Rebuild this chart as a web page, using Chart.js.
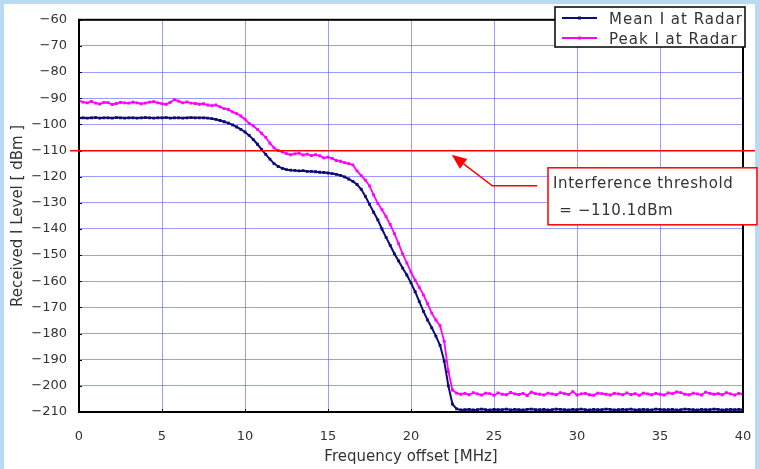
<!DOCTYPE html>
<html>
<head>
<meta charset="utf-8">
<script src="https://cdn.jsdelivr.net/npm/chart.js@4"></script>
<style>
  html, body { margin: 0; padding: 0; background: #b8dbf3; }
  #wrap { position: absolute; left: 0; top: 0; width: 760px; height: 469px; }
</style>
</head>
<body>
<div id="wrap"><canvas id="radarChart"></canvas></div>
<script>
// frequency offset in MHz, 0.25 MHz steps
const freqs = [
  0, 0.25, 0.5, 0.75, 1, 1.25, 1.5, 1.75, 2, 2.25, 2.5, 2.75, 3, 3.25, 3.5, 3.75,
  4, 4.25, 4.5, 4.75, 5, 5.25, 5.5, 5.75, 6, 6.25, 6.5, 6.75, 7, 7.25, 7.5, 7.75,
  8, 8.25, 8.5, 8.75, 9, 9.25, 9.5, 9.75, 10, 10.25, 10.5, 10.75, 11, 11.25, 11.5, 11.75,
  12, 12.25, 12.5, 12.75, 13, 13.25, 13.5, 13.75, 14, 14.25, 14.5, 14.75, 15, 15.25, 15.5, 15.75,
  16, 16.25, 16.5, 16.75, 17, 17.25, 17.5, 17.75, 18, 18.25, 18.5, 18.75, 19, 19.25, 19.5, 19.75,
  20, 20.25, 20.5, 20.75, 21, 21.25, 21.5, 21.75, 22, 22.25, 22.5, 22.75, 23, 23.25, 23.5, 23.75,
  24, 24.25, 24.5, 24.75, 25, 25.25, 25.5, 25.75, 26, 26.25, 26.5, 26.75, 27, 27.25, 27.5, 27.75,
  28, 28.25, 28.5, 28.75, 29, 29.25, 29.5, 29.75, 30, 30.25, 30.5, 30.75, 31, 31.25, 31.5, 31.75,
  32, 32.25, 32.5, 32.75, 33, 33.25, 33.5, 33.75, 34, 34.25, 34.5, 34.75, 35, 35.25, 35.5, 35.75,
  36, 36.25, 36.5, 36.75, 37, 37.25, 37.5, 37.75, 38, 38.25, 38.5, 38.75, 39, 39.25, 39.5, 39.75,
  40
];

// Mean I at Radar [dBm]
const meanLevel = [
  -97.6, -97.5, -97.6, -97.5, -97.4, -97.6, -97.5, -97.5, -97.6, -97.4,
  -97.5, -97.6, -97.5, -97.5, -97.6, -97.5, -97.4, -97.5, -97.6, -97.5,
  -97.5, -97.4, -97.6, -97.5, -97.5, -97.6, -97.5, -97.4, -97.5, -97.5, -97.5,
  -97.6, -97.8, -98.1, -98.5, -99.0, -99.5, -100.2, -101.0, -101.9, -102.9,
  -104.2, -105.8, -107.6, -109.6, -111.5, -113.3, -115.0, -116.1, -116.8, -117.3,
  -117.5, -117.6, -117.8, -117.7, -118.0, -118.0, -118.1, -118.3, -118.4, -118.6,
  -118.8, -119.1, -119.5, -120.1, -120.9, -121.8, -123.0, -124.8, -127.5, -130.6,
  -133.6, -136.5, -140.0, -143.2, -146.3, -149.5, -152.2, -155.0, -157.6, -160.6,
  -164.0, -167.8, -171.5, -174.8, -177.8, -181.0, -184.5, -190.5, -200.0, -207.0,
  -208.8, -209.2,
  -209.1, -209.0, -209.2, -209.1, -208.9, -209.1, -209.2, -209.0, -209.1, -209.1,
  -208.9, -209.2, -209.0, -209.1, -209.2, -209.0, -208.9, -209.1, -209.1, -209.0,
  -209.2, -209.1, -208.9, -209.0, -209.1, -209.2, -209.0, -209.1, -208.9, -209.1,
  -209.2, -209.0, -209.1, -209.1, -208.9, -209.0, -209.2, -209.1, -209.0, -209.1,
  -208.9, -209.2, -209.1, -209.0, -209.1, -209.2, -208.9, -209.0, -209.1, -209.1,
  -209.0, -209.2, -209.1, -208.9, -209.0, -209.1, -209.2, -209.0, -209.1, -209.1,
  -208.9, -209.0, -209.2, -209.1, -209.0, -209.1, -209.0, -209.1
];

// Peak I at Radar [dBm]
const peakLevel = [
  -91.0, -91.5, -91.8, -91.2, -91.9, -92.2, -91.6, -91.7, -92.4, -92.0,
  -91.6, -91.8, -91.9, -91.5, -91.8, -92.1, -91.9, -91.5, -91.3, -91.8,
  -92.1, -92.3, -91.6, -90.5, -91.1, -91.8, -91.4, -91.9, -92.0, -92.3, -92.1,
  -92.6, -92.8, -92.6, -93.3, -94.0, -94.3, -95.2, -95.9, -96.8, -98.0,
  -99.6, -100.6, -101.9, -103.4, -105.0, -107.2, -109.0, -110.0, -110.5, -111.2,
  -111.6, -111.3, -111.0, -111.7, -111.4, -111.9, -111.6, -112.0, -112.8, -112.5,
  -113.0, -113.8, -114.1, -114.6, -115.0, -115.5, -117.8, -119.6, -121.3, -123.5,
  -127.0, -130.2, -132.6, -135.3, -138.3, -141.8, -145.6, -149.5, -153.0, -156.5,
  -159.6, -162.3, -165.2, -168.6, -172.2, -174.8, -177.0, -183.0, -194.5, -201.6,
  -202.8, -203.2,
  -202.9, -203.4, -202.6, -203.1, -203.5, -202.8, -203.0, -203.6, -202.7, -203.2,
  -203.4, -202.5, -203.1, -203.3, -202.9, -203.7, -202.4, -203.0, -203.2, -203.5,
  -202.8, -203.1, -203.4, -202.6, -203.0, -203.3, -202.2, -203.5, -203.1, -202.9,
  -203.4, -203.6, -202.8, -203.0, -203.2, -203.5, -202.9, -203.1, -203.4, -202.7,
  -203.3, -203.0, -203.6, -202.8, -203.1, -203.4, -202.9, -203.2, -203.5, -202.7,
  -203.0, -202.3, -202.6, -203.2, -203.4, -202.8, -203.1, -203.5, -202.4, -202.9,
  -203.2, -203.0, -203.4, -202.6, -203.1, -203.5, -202.9, -203.2
];

const seriesNames = ['Mean I at Radar', 'Peak I at Radar'];
const thresholdDbm = -110.1;
const noteLines = ['Interference threshold', ' = \u2212110.1dBm'];

const FONT = 'DejaVu Sans';
const TEXT = '#333333';

const toPoints = vals => vals.map((v, i) => ({ x: freqs[i], y: v }));

// white panel, plot frame, threshold line, note box and legend
const decorPlugin = {
    id: 'decor',
    beforeDraw(chart) {
        const ctx = chart.ctx;
        ctx.save();
        ctx.fillStyle = '#ffffff';
        ctx.fillRect(4, 4, 751, 465);
        ctx.restore();
    },
    afterDraw(chart) {
        const ctx = chart.ctx;
        const area = chart.chartArea;
        const xs = chart.scales.x;
        const ys = chart.scales.y;
        ctx.save();

        // small inner tick marks
        ctx.strokeStyle = '#000';
        ctx.lineWidth = 1;
        xs.ticks.forEach(t => {
            const px = Math.round(xs.getPixelForValue(t.value)) + 0.5;
            ctx.beginPath(); ctx.moveTo(px, area.bottom); ctx.lineTo(px, area.bottom - 3); ctx.stroke();
        });
        ys.ticks.forEach(t => {
            const py = Math.round(ys.getPixelForValue(t.value)) + 0.5;
            ctx.beginPath(); ctx.moveTo(area.left, py); ctx.lineTo(area.left + 3, py); ctx.stroke();
        });

        // plot frame
        ctx.lineWidth = 2;
        ctx.strokeStyle = '#000';
        ctx.strokeRect(area.left, area.top, area.right - area.left, area.bottom - area.top);

        // threshold line
        const ty = ys.getPixelForValue(thresholdDbm);
        ctx.strokeStyle = '#ff0000';
        ctx.lineWidth = 1.5;
        ctx.beginPath(); ctx.moveTo(area.left - 9, ty); ctx.lineTo(area.right + 12, ty); ctx.stroke();

        // arrow to the line
        const tipX = xs.getPixelForValue(22.45), tipY = ty + 4;
        const elbowX = xs.getPixelForValue(24.9), elbowY = ty + 35;
        const endX = xs.getPixelForValue(27.6);
        ctx.lineWidth = 1.5;
        ctx.beginPath();
        ctx.moveTo(endX, elbowY); ctx.lineTo(elbowX, elbowY);
        const ang = Math.atan2(tipY - elbowY, tipX - elbowX);
        const headLen = 15;
        const baseX = tipX - headLen * Math.cos(ang), baseY = tipY - headLen * Math.sin(ang);
        ctx.lineTo(baseX, baseY);
        ctx.stroke();
        ctx.fillStyle = '#ff0000';
        ctx.beginPath();
        ctx.moveTo(tipX, tipY);
        ctx.lineTo(baseX + 6 * Math.sin(ang), baseY - 6 * Math.cos(ang));
        ctx.lineTo(baseX - 6 * Math.sin(ang), baseY + 6 * Math.cos(ang));
        ctx.closePath();
        ctx.fill();

        // note box
        const bx = 548, by = ty + 17, bw = 209, bh = 57;
        ctx.fillStyle = '#ffffff';
        ctx.fillRect(bx, by, bw, bh);
        ctx.strokeStyle = '#ff0000';
        ctx.lineWidth = 1.5;
        ctx.strokeRect(bx, by, bw, bh);
        ctx.fillStyle = TEXT;
        ctx.font = '15px "' + FONT + '"';
        ctx.letterSpacing = '0.6px';
        ctx.textBaseline = 'alphabetic';
        ctx.textAlign = 'left';
        ctx.fillText(noteLines[0], bx + 5, by + 20);
        ctx.fillText(noteLines[1], bx + 6, by + 47);

        // legend
        const lx = 555, lyTop = 7, lw = 190, lh = 40;
        ctx.fillStyle = '#ffffff';
        ctx.fillRect(lx, lyTop, lw, lh);
        ctx.strokeStyle = '#000';
        ctx.lineWidth = 1.5;
        ctx.strokeRect(lx, lyTop, lw, lh);
        chart.data.datasets.forEach((ds, i) => {
            const ry = lyTop + 11 + i * 20;
            ctx.strokeStyle = ds.borderColor;
            ctx.lineWidth = 2;
            ctx.beginPath(); ctx.moveTo(lx + 7, ry); ctx.lineTo(lx + 42, ry); ctx.stroke();
            ctx.fillStyle = ds.borderColor;
            ctx.fillRect(lx + 23, ry - 1.5, 3, 3);
            ctx.fillStyle = TEXT;
            ctx.font = '15px "' + FONT + '"';
            ctx.letterSpacing = '1px';
            ctx.fillText(ds.label, lx + 54, ry + 6);
        });
        ctx.restore();
    }
};

const ctx = document.getElementById('radarChart');
new Chart(ctx, {
    type: 'line',
    data: {
        datasets: [
            {
                label: seriesNames[0],
                data: toPoints(meanLevel),
                borderColor: '#0c0c78',
                backgroundColor: '#0c0c78',
                borderWidth: 2,
                pointStyle: 'rect',
                pointRadius: 2,
                pointBorderWidth: 0,
                tension: 0
            },
            {
                label: seriesNames[1],
                data: toPoints(peakLevel),
                borderColor: '#ff00ff',
                backgroundColor: '#ff00ff',
                borderWidth: 1.8,
                pointStyle: 'rect',
                pointRadius: 2,
                pointBorderWidth: 0,
                tension: 0
            }
        ]
    },
    options: {
        responsive: true,
        maintainAspectRatio: false,
        animation: false,
        layout: { padding: { top: 18, right: 17, left: 0, bottom: 0 } },
        plugins: {
            legend: { display: false },
            tooltip: { enabled: false }
        },
        scales: {
            x: {
                type: 'linear',
                min: 0,
                max: 40,
                afterFit: s => { s.height = 57; s.paddingLeft = 0; s.paddingRight = 0; },
                border: { display: false },
                grid: { color: 'rgba(90, 90, 255, 0.6)', lineWidth: 1, drawTicks: false },
                ticks: {
                    stepSize: 5,
                    padding: 17,
                    color: TEXT,
                    font: { family: FONT, size: 13 }
                },
                title: {
                    display: true,
                    text: 'Frequency offset [MHz]',
                    color: TEXT,
                    font: { family: FONT, size: 15 },
                    padding: { top: 0, bottom: 3 }
                }
            },
            y: {
                type: 'linear',
                min: -210,
                max: -60,
                afterFit: s => { s.width = 79; },
                border: { display: false },
                grid: { color: 'rgba(90, 90, 255, 0.6)', lineWidth: 1, drawTicks: false },
                ticks: {
                    stepSize: 10,
                    padding: 12,
                    color: TEXT,
                    font: { family: FONT, size: 13 },
                    callback: v => String(v).replace('-', '\u2212')
                },
                title: {
                    display: true,
                    text: 'Received I Level [ dBm ]',
                    color: TEXT,
                    font: { family: FONT, size: 15 },
                    padding: { top: 9, bottom: 0 }
                }
            }
        }
    },
    plugins: [decorPlugin]
});
</script>
</body>
</html>
